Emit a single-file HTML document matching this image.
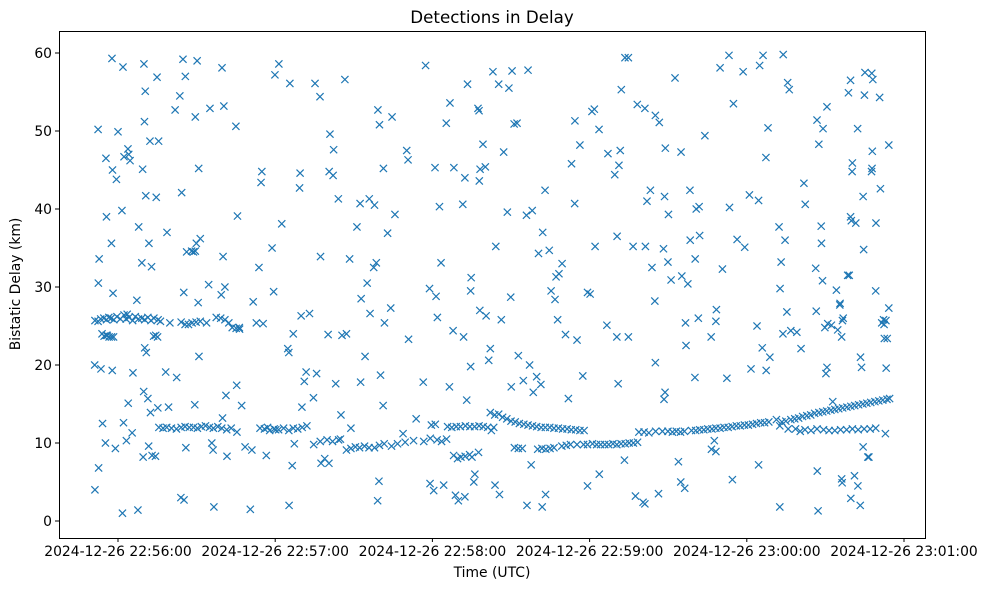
<!DOCTYPE html>
<html><head><meta charset="utf-8"><style>
body{margin:0;background:#fff;}
svg{display:block;font-family:"DejaVu Sans","Liberation Sans",sans-serif;}
</style></head><body>
<svg id="chart" width="987" height="590" xmlns="http://www.w3.org/2000/svg">
<rect width="987" height="590" fill="#fff"/>
<text x="492" y="23" text-anchor="middle" font-size="16.7">Detections in Delay</text>
<text x="492" y="577" text-anchor="middle" font-size="13.9">Time (UTC)</text>
<text transform="translate(20,284) rotate(-90)" text-anchor="middle" font-size="13.9">Bistatic Delay (km)</text>
<g id="ticks"></g>
<g id="marks"></g>
<rect x="59.5" y="31.5" width="866" height="507" fill="none" stroke="#000" stroke-width="1"/>
</svg>
<script>
// time in seconds after 2024-12-26 22:56:00, delay in km
const xTickSeconds=[0,60,120,180,240,300];
const xTickLabels=["2024-12-26 22:56:00","2024-12-26 22:57:00","2024-12-26 22:58:00","2024-12-26 22:59:00","2024-12-26 23:00:00","2024-12-26 23:01:00"];
const yTicks=[0,10,20,30,40,50,60];
const scatterPoints=[
[-8.8,4],[-8.9,20],[-7.6,50.2],[-7.4,6.8],[-7.2,33.6],[-7.5,30.5],[-6.1,24],[-6.5,19.5],[-5.9,12.5],
[-4.6,46.5],[-4.4,39],[-4.8,10],[-4.1,23.8],[-2.3,59.3],[-2.1,45],[-2.5,35.6],[-1.9,29.2],[-2.2,19.3],
[0,49.9],[-0.6,43.8],[-1,9.3],[1.9,58.2],[2.3,46.7],[1.5,39.8],[2.1,12.6],[1.7,1],
[3.8,47.7],[4.1,47],[4.6,46.2],[3.5,26.5],[3.9,15.1],[3.2,10.3],[5.7,19],[5.4,11.3],
[7.6,1.4],[7.2,28.3],[7.9,37.7],[9.9,58.6],[10.4,55.1],[10.1,51.2],[9.4,45.1],[10.6,41.7],[9.1,33.1],[10.2,22.2],[10.8,21.6],[9.8,16.6],[9.6,8.2],
[12.2,48.7],[11.8,35.6],[12.8,32.6],[12.4,13.9],[11.7,9.6],[13,8.4],[11.4,15.7],
[14.9,56.9],[15.5,48.7],[14.6,41.5],[15.2,14.5],[14.3,8.3],[18.7,37],[18.2,19.1],[19.3,14.6],
[21.8,52.7],[22.4,18.4],[24,3],[24.8,59.2],[23.6,54.5],[25.7,57],[24.3,42.1],[26.2,34.5],[25.1,29.3],[25.2,2.7],[25.9,9.4],
[30.2,59],[29.5,51.8],[30.8,45.2],[31.4,36.2],[29.9,35.6],[30.6,28],[30.9,21.1],[29.3,14.9],
[35.1,52.9],[34.6,30.3],[35.8,10],[36.3,9.1],[36.6,1.8],[39.7,58.1],[40.4,53.2],[40.1,33.9],[40.8,30],[39.4,29],[41.2,16.1],[39.9,13.2],[41.6,8.3],
[45,50.6],[45.6,39.1],[46.3,24.8],[45.3,17.4],[47.2,14.8],[48.5,9.5],[51.1,9.1],[50.5,1.5],[52.8,25.4],[51.6,28.1],
[54.9,44.8],[54.6,43.4],[53.8,32.5],[55.4,25.3],[56.6,8.4],[57.1,12],
[59.9,57.2],[61.4,58.6],[62.5,38.1],[58.8,35],[59.4,29.4],[60.2,11.7],
[65.6,56.1],[64.8,22.1],[65.2,21.6],[66.9,24],[67.3,9.9],[65.3,2],[66.5,7.1],
[69.5,44.6],[69.3,42.7],[69.9,26.3],[71.8,19.1],[71.1,17.9],[70.2,14.6],
[75.2,56.1],[77.1,54.4],[77.3,33.9],[73.1,26.6],[75.8,18.9],[74.6,15.8],[77.5,7.4],[78.9,8],
[80.9,49.6],[82.3,47.6],[80.6,44.8],[82.1,44.3],[80.2,23.9],[83.1,17.6],[84.9,10.5],[80.5,7.4],
[86.6,56.6],[84.1,41.3],[88.4,33.6],[87.2,24],[85.5,23.8],[85.1,13.6],[88.9,11.9],
[92.4,40.7],[95.9,41.3],[91.2,37.7],[95.1,30.5],[92.8,28.5],[94.3,21.1],[92.6,17.8],
[99.2,52.7],[99.8,50.8],[97.9,40.5],[98.6,33.1],[97.6,32.5],[96.2,26.6],[100.2,18.7],[101.2,14.8],[99.6,5.1],[99.1,2.6],
[104.6,51.8],[101.3,45.2],[105.7,39.3],[102.9,36.9],[104.1,27.3],[101.7,25.4],[108.8,11.2],
[110.7,46.3],[110.2,47.5],[110.9,23.3],[117.4,58.4],[116.5,17.8],[113.8,13.1],[119.1,4.8],
[121,45.3],[118.9,29.8],[122.7,40.3],[123.3,33.1],[121.4,28.8],[121.9,26.1],[120.5,3.9],[128.8,3.3],
[126.7,53.6],[125.3,51],[128.2,45.3],[127.9,24.4],[126.5,17.2],[124.3,4.6],[129.9,2.6],
[133.4,56],[132.4,44],[131.6,40.6],[138.1,27],[131.9,23.6],[134.6,19.8],[133.1,15.5],[136.2,6],[132.4,3.1],
[137.4,52.9],[137.8,52.6],[139.3,48.3],[138.2,45.1],[137.9,43.6],[134.8,31.2],[134.6,29.5],[140.5,26.3],[141.5,20.6],[137.6,8.8],[135.8,5],
[143.1,57.6],[145.3,56],[149.2,55.5],[147.2,47.3],[140.2,45.4],[144.2,35.2],[146.3,25.8],[142.1,22.1],[150.1,17.2],[143.9,4.6],
[150.4,57.7],[151.2,50.9],[152.3,51],[148.6,39.6],[149.9,28.7],[152.8,21.2],[154.7,18],[145.6,3.4],
[156.5,57.8],[155.9,39.2],[158.1,39.8],[160.5,34.3],[157.1,20],[158.5,16.5],[157.7,7.2],[156.1,2],
[163,42.4],[162.1,37],[164.6,34.7],[167.2,31.3],[165.3,29.5],[159.8,18.5],[161.4,17.5],[163.2,3.4],[161.9,1.8],
[169.5,33],[168.3,31.7],[174.3,40.7],[166.8,28.4],[167.8,25.8],[170.8,23.9],[171.9,15.7],
[174.4,51.3],[176.3,48.2],[173.1,45.8],[179.2,29.3],[175.2,23.2],[177.4,18.6],[179.2,4.5],
[180.9,52.5],[181.8,52.8],[183.6,50.2],[182.1,35.2],[180.2,29.1],[186.6,25.1],[183.7,6],
[187,47.1],[191.2,45.6],[189.6,44.4],[190.5,36.5],[190.4,23.6],[194.8,23.6],[190.9,17.6],[193.3,7.8],
[193.5,59.4],[194.8,59.4],[192.1,55.3],[198.2,53.4],[191.7,47.5],[201.9,41],[196.6,35.2],[197.5,3.2],
[201.1,52.9],[205.1,52],[206.6,51.1],[203.2,42.4],[208.2,34.9],[201.3,35.2],[203.8,32.5],[204.9,28.2],[205.1,20.3],[200.4,2.4],[201.1,2.2],
[208.9,47.8],[210.1,39.3],[208.6,41.6],[209.9,33.2],[211.1,30.9],[208.4,15.6],[208.8,16.5],[206.3,3.5],
[212.6,56.8],[218.3,42.4],[214.9,47.3],[220.7,40],[215.2,31.4],[216.6,25.4],[217.5,30.4],[213.9,7.6],[214.8,5],
[218.4,36],[220.3,33.6],[222,36.6],[216.8,22.5],[221.5,26],[220.2,18.4],[216.3,4.2],
[224,49.4],[221.8,40.3],[226.4,23.6],[233.4,40.2],[228.4,27.1],[228.2,25.6],[226.5,9.2],[227.6,10.3],[228.2,8.9],
[229.8,58.1],[233.2,59.7],[230.7,32.3],[236.3,36.1],[232.4,18.3],[234.5,5.3],
[238.6,57.6],[244.9,58.4],[246.2,59.7],[234.9,53.5],[239.2,35.1],[241,41.8],[243.9,25],[241.6,19.5],[244.5,7.2],
[248.1,50.4],[247.3,46.6],[244.5,41.1],[245.9,22.2],[248.8,21],[247.4,19.3],[252.6,1.8],
[253.9,59.8],[255.6,56.2],[256.2,55.3],[252.3,37.7],[254.6,36],[253.1,33.2],[252.7,29.8],[255.3,26.8],[260.7,22.1],
[261.8,43.3],[262.3,40.6],[266.8,51.4],[267.5,48.3],[266.3,32.4],[268.9,30.8],[266.5,26.9],[270.6,19.7],[270.2,18.9],[266.9,6.4],[267.2,1.3],
[269.1,50.3],[270.6,53.1],[268.4,37.8],[274.2,29.6],[275.6,27.9],[268.5,35.6],[270.9,25.3],[269.8,24.8],[272.8,15.3],[276.2,5.4],[276.4,4.9],
[279.6,56.5],[278.8,54.9],[280.3,45.9],[280.2,44.8],[279.6,39],[279.9,38.5],[278.5,31.5],[279.1,31.5],[275.5,27.7],[276.2,23.6],[276.8,26],[281.1,5.8],[279.7,2.9],
[285.1,57.5],[287.7,57.4],[284.9,54.6],[282.3,50.3],[287.9,47.4],[284.4,41.6],[281.6,38.2],[284.6,34.8],[283.4,21],[283.8,19.7],[284.4,9.5],[282.4,4.5],[283.3,2],
[288.1,56.6],[287.8,45.2],[287.6,44.8],[291,42.6],[289.3,38.2],[289.2,29.5],[291.5,25.4],[292.2,25.8],[293.2,19.6],[286.2,8.2],[286.6,8.2],
[290.7,54.3],[294.2,48.2],[294.2,27.3],[292.5,23.4],[293.6,23.4],[292.9,11.2]
];
const bandEarly=[
[-8.8,25.7],[-7.6,25.6],[-6.6,25.9],[-5.4,26],[-4.4,25.8],[-3.5,26.1],[-2.6,26],[-1.6,25.8],[-0.4,26.2],[0.9,25.9],[2.3,26.4],[3.1,25.9],[4.2,26.1],[5.6,25.7],[6.6,26.2],[7.8,25.9],[9.1,26],[10.2,25.8],[11.4,26.1],[12.6,25.7],[13.7,26],[15.3,25.8],[16.2,25.6],[19.8,25.4],[24.1,25.5],[25.6,25.2],[26.9,25.2],[28.3,25.4],[29.8,25.5],[31.4,25.6],[33.8,25.4],[37.5,26.1],[39.2,26],[40.8,25.8],[42.3,25.4],[43.6,24.8],[45.1,24.7],[46.4,24.6],
[-5.3,23.7],[-4.5,23.8],[-3.4,23.6],[-2.5,23.6],[-1.7,23.6],[13.6,23.7],[14.4,23.8],[15.1,23.6],
[15.6,12],[17.2,11.9],[18.6,12],[20.4,11.9],[22.3,11.8],[24.1,12],[25.6,12.1],[27.2,12],[28.8,12],[30.3,11.9],[31.8,12.1],[33.4,12.2],[34.9,12],[36.4,11.9],[38.1,12.1],[39.6,11.9],[41.5,11.7],[43.2,11.9],[45.4,11.4],
[28.1,34.6],[28.8,34.5],[29.5,34.6]
];
const bandMid=[
[54.2,11.9],[55.9,11.8],[57.9,11.6],[59.6,11.8],[61.3,11.7],[63.2,11.9],[65.2,11.6],[66.9,11.9],[68.6,11.8],[70.3,12],[72.1,12.2],
[74.7,9.8],[77.2,10.2],[79.8,10.4],[81.9,10.2],[84.2,10.4],[87.2,9.1],[88.9,9.3],[90.6,9.5],[92.2,9.4],[94.1,9.6],[95.8,9.4],[97.9,9.4],[99.8,9.7],[101.6,9.9],[104.4,9.6],[106.7,9.9],[109.6,10.1],[112.8,10.3],[116.7,10.2],[119.2,10.6],[121.8,10.4],[123.5,10.2],[125.4,10.5],
[119.6,12.3],[121.1,12.4],[125.8,12.1],[127.4,12],[129.1,12.1],[130.7,12.1],[132.6,12.2],[134.3,12.1],[136.1,12.1],[137.8,12.2],[139.4,12.1],[141.1,12],[142.5,11.6],[143.4,12],
[128.1,8.4],[129.6,8],[130.9,8.2],[132.5,8.3],[134.2,8.5],[135.1,8.2],
[142.1,13.9],[143.8,13.6],[145.3,13.7],[146.8,13.3],[148.4,13.1],[150,12.8],[151.6,12.7],[153.2,12.5],[154.9,12.4],[156.5,12.3],[158.2,12.2],[159.8,12.1],[161.5,12],[163.1,12],[164.8,12],[166.4,11.9],[168.1,11.9],[169.7,11.8],[171.4,11.8],[173,11.7],[174.7,11.7],[176.3,11.6],[177.9,11.6],
[151.3,9.4],[152.8,9.3],[154.3,9.3],[160.2,9.2],[161.8,9.3],[163.3,9.2],[164.9,9.3],[166.4,9.4],[169.4,9.6],[171.1,9.7],[172.7,9.8],[175.2,9.8],[177.7,9.8],[179.2,9.8],[181.1,9.9],[182.7,9.8],[184.2,9.8],[185.8,9.8],[187.3,9.8],[188.9,9.9],[190.4,9.8],[192,9.9],[193.6,9.9],[195.1,10],[196.7,10],[198.3,10.1],
[198.8,11.4],[200.8,11.4],[202.6,11.3],[205.2,11.5],[207.8,11.5],[209.9,11.5],[211.6,11.4],[213.1,11.5],[214.7,11.4],[216.2,11.5]
];
const bandLate=[
[218.9,11.6],[220.5,11.6],[222,11.7],[223.6,11.7],[225.1,11.8],[226.7,11.8],[228.2,11.9],[229.8,11.9],[231.3,12],[232.9,12],[234.4,12.1],[236,12.2],[237.5,12.2],[239.1,12.3],[240.6,12.3],[242.2,12.4],[243.7,12.5],[245.3,12.6],[246.8,12.6],[248.4,12.7],
[251.3,13],[252.6,12.2],[253.4,12.7],[254.9,12.8],[255.8,11.8],[256.8,13],[258.3,13.1],[259.8,13.2],[261.3,13.4],[262.9,13.5],[264.4,13.6],[265.9,13.8],[267.5,13.9],[269,14],[270.5,14.1],[272.1,14.2],[273.6,14.3],[275.1,14.4],[276.6,14.5],[278.2,14.6],[279.7,14.7],[281.2,14.8],[282.7,14.9],[284.3,15],[285.8,15.1],[287.3,15.2],[288.9,15.3],[290.4,15.4],[291.9,15.5],[293.5,15.6],[294.5,15.7],
[258.6,11.8],[260.4,11.5],[262.2,11.7],[264.5,11.6],[266.8,11.8],[269.3,11.7],[271.4,11.6],[273.6,11.6],[275.8,11.7],[278.1,11.7],[280.3,11.8],[282.5,11.7],[284.8,11.8],[287.1,11.8],[289.2,11.9],
[253.8,24],[256.8,24.4],[259.1,24.2],[272.3,25.1],[274.7,24.5],[276.5,25.7],[292.4,25.2],[293.1,25.7]
];
const NS='http://www.w3.org/2000/svg';
const xs=t=>118+t*157.2/60;
const ys=v=>521-v*7.8;
const tk=document.getElementById('ticks');
const mk=document.getElementById('marks');
function mkEl(tag,attrs,parent){const e=document.createElementNS(NS,tag);for(const k in attrs)e.setAttribute(k,attrs[k]);parent.appendChild(e);return e;}
xTickSeconds.forEach((s,i)=>{
  const x=xs(s);
  const l=mkEl('line',{x1:x,x2:x,y1:538,y2:542,stroke:'#000'},tk);
  
  
  const t=mkEl('text',{x:x,y:556,'text-anchor':'middle','font-size':'13.9'},tk);
  
  
  t.textContent=xTickLabels[i];
});
yTicks.forEach(v=>{
  const y=ys(v);
  const l=mkEl('line',{x1:55,x2:59,y1:y,y2:y,stroke:'#000'},tk);
  
  
  const t=mkEl('text',{x:52,y:y+5,'text-anchor':'end','font-size':'13.9'},tk);
  
  
  t.textContent=v;
});
[scatterPoints,bandEarly,bandMid,bandLate].forEach(arr=>arr.forEach(p=>{
  const x=xs(p[0]),y=ys(p[1]),r=3.6;
  const m=mkEl('path',{d:`M${x-r},${y-r}L${x+r},${y+r}M${x-r},${y+r}L${x+r},${y-r}`,stroke:'#1f77b4','stroke-width':'1.2',fill:'none'},mk);
  
  
}));
</script>
</body></html>
